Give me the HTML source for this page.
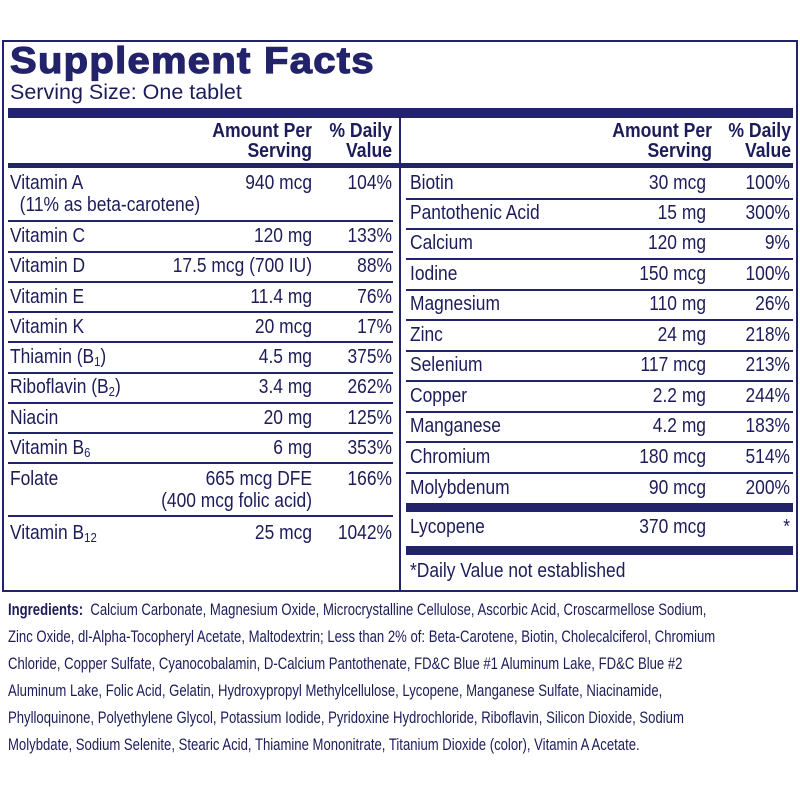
<!DOCTYPE html>
<html><head><meta charset="utf-8"><style>
body{margin:0;width:800px;height:800px;background:#fff;position:relative;overflow:hidden;font-family:"Liberation Sans",sans-serif;color:#1c1c5a}
div{position:absolute;white-space:nowrap}
.b{background:#23236b}
.t{font-size:20px;line-height:22px;transform:scaleX(.87);transform-origin:left top}
.r{text-align:right;transform-origin:right top}
.h{font-weight:bold;font-size:20px;line-height:20px;text-align:right;transform:scaleX(.88);transform-origin:right top}
.ing{font-size:16.5px;left:8px;transform:scaleX(.795);transform-origin:left top}
sub{font-size:13px;vertical-align:-3px;line-height:0}
</style></head><body>
<div style="left:2px;top:40px;width:792px;height:548px;border:2px solid #23236b"></div>
<div style="left:10px;top:40px;font-weight:900;font-size:37px;letter-spacing:1.2px;color:#23236b;-webkit-text-stroke:1.2px #23236b;transform:scaleX(1.08);transform-origin:left top">Supplement Facts</div>
<div style="left:10px;top:80px;font-size:21.5px">Serving Size: One tablet</div>
<div class="b" style="left:8px;top:108px;width:785px;height:10px"></div>
<div class="b" style="left:399px;top:118px;width:2px;height:472px"></div>
<!-- headers -->
<div class="h" style="left:150px;top:121px;width:162px">Amount Per<br>Serving</div>
<div class="h" style="left:312px;top:121px;width:80px">% Daily<br>Value</div>
<div class="h" style="left:550px;top:121px;width:162px">Amount Per<br>Serving</div>
<div class="h" style="left:712px;top:121px;width:79px">% Daily<br>Value</div>
<div class="b" style="left:8px;top:163px;width:785px;height:5px"></div>
<!-- left rows -->
<div class="t" style="left:10px;top:172px">Vitamin A<br>&nbsp;&nbsp;(11% as beta-carotene)</div>
<div class="t r" style="left:150px;top:172px;width:162px">940 mcg</div>
<div class="t r" style="left:312px;top:172px;width:80px">104%</div>
<div class="b" style="left:8px;top:220px;width:385px;height:1.5px"></div>
<div class="t" style="left:10px;top:225px">Vitamin C</div><div class="t r" style="left:150px;top:225px;width:162px">120 mg</div><div class="t r" style="left:312px;top:225px;width:80px">133%</div>
<div class="b" style="left:8px;top:251px;width:385px;height:1.5px"></div>
<div class="t" style="left:10px;top:255px">Vitamin D</div><div class="t r" style="left:150px;top:255px;width:162px">17.5 mcg (700 IU)</div><div class="t r" style="left:312px;top:255px;width:80px">88%</div>
<div class="b" style="left:8px;top:281px;width:385px;height:1.5px"></div>
<div class="t" style="left:10px;top:286px">Vitamin E</div><div class="t r" style="left:150px;top:286px;width:162px">11.4 mg</div><div class="t r" style="left:312px;top:286px;width:80px">76%</div>
<div class="b" style="left:8px;top:311px;width:385px;height:1.5px"></div>
<div class="t" style="left:10px;top:316px">Vitamin K</div><div class="t r" style="left:150px;top:316px;width:162px">20 mcg</div><div class="t r" style="left:312px;top:316px;width:80px">17%</div>
<div class="b" style="left:8px;top:341px;width:385px;height:1.5px"></div>
<div class="t" style="left:10px;top:346px">Thiamin (B<sub>1</sub>)</div><div class="t r" style="left:150px;top:346px;width:162px">4.5 mg</div><div class="t r" style="left:312px;top:346px;width:80px">375%</div>
<div class="b" style="left:8px;top:372px;width:385px;height:1.5px"></div>
<div class="t" style="left:10px;top:376px">Riboflavin (B<sub>2</sub>)</div><div class="t r" style="left:150px;top:376px;width:162px">3.4 mg</div><div class="t r" style="left:312px;top:376px;width:80px">262%</div>
<div class="b" style="left:8px;top:402px;width:385px;height:1.5px"></div>
<div class="t" style="left:10px;top:407px">Niacin</div><div class="t r" style="left:150px;top:407px;width:162px">20 mg</div><div class="t r" style="left:312px;top:407px;width:80px">125%</div>
<div class="b" style="left:8px;top:432px;width:385px;height:1.5px"></div>
<div class="t" style="left:10px;top:437px">Vitamin B<sub>6</sub></div><div class="t r" style="left:150px;top:437px;width:162px">6 mg</div><div class="t r" style="left:312px;top:437px;width:80px">353%</div>
<div class="b" style="left:8px;top:462px;width:385px;height:1.5px"></div>
<div class="t" style="left:10px;top:468px">Folate</div><div class="t r" style="left:100px;top:468px;width:212px">665 mcg DFE<br>(400 mcg folic acid)</div><div class="t r" style="left:312px;top:468px;width:80px">166%</div>
<div class="b" style="left:8px;top:515px;width:385px;height:1.5px"></div>
<div class="t" style="left:10px;top:522px">Vitamin B<sub>12</sub></div><div class="t r" style="left:150px;top:522px;width:162px">25 mcg</div><div class="t r" style="left:312px;top:522px;width:80px">1042%</div>
<!-- right rows -->
<div class="t" style="left:410px;top:172px">Biotin</div><div class="t r" style="left:550px;top:172px;width:156px">30 mcg</div><div class="t r" style="left:712px;top:172px;width:78px">100%</div>
<div class="b" style="left:406px;top:198px;width:387px;height:1.5px"></div>
<div class="t" style="left:410px;top:202px">Pantothenic Acid</div><div class="t r" style="left:550px;top:202px;width:156px">15 mg</div><div class="t r" style="left:712px;top:202px;width:78px">300%</div>
<div class="b" style="left:406px;top:228px;width:387px;height:1.5px"></div>
<div class="t" style="left:410px;top:232px">Calcium</div><div class="t r" style="left:550px;top:232px;width:156px">120 mg</div><div class="t r" style="left:712px;top:232px;width:78px">9%</div>
<div class="b" style="left:406px;top:258px;width:387px;height:1.5px"></div>
<div class="t" style="left:410px;top:263px">Iodine</div><div class="t r" style="left:550px;top:263px;width:156px">150 mcg</div><div class="t r" style="left:712px;top:263px;width:78px">100%</div>
<div class="b" style="left:406px;top:289px;width:387px;height:1.5px"></div>
<div class="t" style="left:410px;top:293px">Magnesium</div><div class="t r" style="left:550px;top:293px;width:156px">110 mg</div><div class="t r" style="left:712px;top:293px;width:78px">26%</div>
<div class="b" style="left:406px;top:319px;width:387px;height:1.5px"></div>
<div class="t" style="left:410px;top:324px">Zinc</div><div class="t r" style="left:550px;top:324px;width:156px">24 mg</div><div class="t r" style="left:712px;top:324px;width:78px">218%</div>
<div class="b" style="left:406px;top:350px;width:387px;height:1.5px"></div>
<div class="t" style="left:410px;top:354px">Selenium</div><div class="t r" style="left:550px;top:354px;width:156px">117 mcg</div><div class="t r" style="left:712px;top:354px;width:78px">213%</div>
<div class="b" style="left:406px;top:380px;width:387px;height:1.5px"></div>
<div class="t" style="left:410px;top:385px">Copper</div><div class="t r" style="left:550px;top:385px;width:156px">2.2 mg</div><div class="t r" style="left:712px;top:385px;width:78px">244%</div>
<div class="b" style="left:406px;top:411px;width:387px;height:1.5px"></div>
<div class="t" style="left:410px;top:415px">Manganese</div><div class="t r" style="left:550px;top:415px;width:156px">4.2 mg</div><div class="t r" style="left:712px;top:415px;width:78px">183%</div>
<div class="b" style="left:406px;top:441px;width:387px;height:1.5px"></div>
<div class="t" style="left:410px;top:446px">Chromium</div><div class="t r" style="left:550px;top:446px;width:156px">180 mcg</div><div class="t r" style="left:712px;top:446px;width:78px">514%</div>
<div class="b" style="left:406px;top:472px;width:387px;height:1.5px"></div>
<div class="t" style="left:410px;top:477px">Molybdenum</div><div class="t r" style="left:550px;top:477px;width:156px">90 mcg</div><div class="t r" style="left:712px;top:477px;width:78px">200%</div>
<div class="b" style="left:406px;top:503px;width:387px;height:9px"></div>
<div class="t" style="left:410px;top:516px">Lycopene</div><div class="t r" style="left:550px;top:516px;width:156px">370 mcg</div><div class="t r" style="left:712px;top:516px;width:78px">*</div>
<div class="b" style="left:406px;top:546px;width:387px;height:9px"></div>
<div class="t" style="left:410px;top:560px">*Daily Value not established</div>
<!-- ingredients -->
<div class="ing" style="top:601px"><b>Ingredients:</b>&nbsp; Calcium Carbonate, Magnesium Oxide, Microcrystalline Cellulose, Ascorbic Acid, Croscarmellose Sodium,</div>
<div class="ing" style="top:628px">Zinc Oxide, dl-Alpha-Tocopheryl Acetate, Maltodextrin; Less than 2% of: Beta-Carotene, Biotin, Cholecalciferol, Chromium</div>
<div class="ing" style="top:655px">Chloride, Copper Sulfate, Cyanocobalamin, D-Calcium Pantothenate, FD&amp;C Blue #1 Aluminum Lake, FD&amp;C Blue #2</div>
<div class="ing" style="top:682px">Aluminum Lake, Folic Acid, Gelatin, Hydroxypropyl Methylcellulose, Lycopene, Manganese Sulfate, Niacinamide,</div>
<div class="ing" style="top:709px">Phylloquinone, Polyethylene Glycol, Potassium Iodide, Pyridoxine Hydrochloride, Riboflavin, Silicon Dioxide, Sodium</div>
<div class="ing" style="top:736px">Molybdate, Sodium Selenite, Stearic Acid, Thiamine Mononitrate, Titanium Dioxide (color), Vitamin A Acetate.</div>
</body></html>
